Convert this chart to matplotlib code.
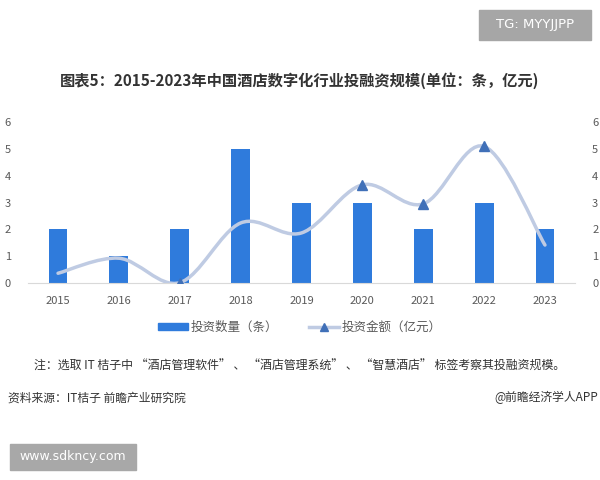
import numpy as np
import matplotlib
matplotlib.use('Agg')
import matplotlib.pyplot as plt
from matplotlib.path import Path
from matplotlib.patches import PathPatch, Rectangle
from matplotlib.lines import Line2D

plt.rcParams['font.family'] = ['Noto Sans CJK SC', 'DejaVu Sans']

# Data
years = ['2015', '2016', '2017', '2018', '2019', '2020', '2021', '2022', '2023']
deal_count = [2, 1, 2, 5, 3, 3, 2, 3, 2]                              # 投资数量（条）
deal_amount = [0.37, 0.93, 0.02, 2.24, 1.87, 3.66, 2.95, 5.09, 1.42]  # 投资金额（亿元）
marked = [2, 5, 6, 7]  # points where the triangle marker is visible

bar_color = '#2f7bdc'
line_color = '#bfcbe3'
marker_color = '#4070b8'
tick_color = '#595959'

fig = plt.figure(figsize=(6, 4.8), dpi=100)
ax = fig.add_axes([0.046, 0.41, 0.913, 0.336])

x = np.arange(len(years))
ax.bar(x, deal_count, width=0.31, color=bar_color, zorder=2)

ax.set_xlim(-0.5, len(years) - 0.5)
ax.set_ylim(0, 6)
ax.set_yticks(range(0, 7))
ax.set_xticks(x)
ax.set_xticklabels(years)
ax.tick_params(axis='both', length=0, labelsize=8, labelcolor=tick_color)
ax.tick_params(axis='x', pad=9)
ax.tick_params(axis='y', pad=12)
for s in ['top', 'right', 'left']:
    ax.spines[s].set_visible(False)
ax.spines['bottom'].set_color('#d9d9d9')

ax2 = ax.twinx()
ax2.set_ylim(0, 6)
ax2.set_yticks(range(0, 7))
ax2.tick_params(axis='y', length=0, labelsize=8, labelcolor=tick_color, pad=12)
for s in ax2.spines.values():
    s.set_visible(False)

# smoothed line (Catmull-Rom as cubic bezier through the data points)
pts = np.column_stack([x, deal_amount]).astype(float)
ext = np.vstack([pts[0], pts, pts[-1]])
verts = [pts[0]]
codes = [Path.MOVETO]
for i in range(len(pts) - 1):
    p0, p1, p2, p3 = ext[i], ext[i + 1], ext[i + 2], ext[i + 3]
    verts += [p1 + (p2 - p0) / 6, p2 - (p3 - p1) / 6, p2]
    codes += [Path.CURVE4] * 3
ax2.add_patch(PathPatch(Path(verts, codes), fill=False, edgecolor=line_color,
                        linewidth=2.5, capstyle='round', zorder=3))
ax2.plot(x[marked], np.array(deal_amount)[marked], linestyle='none', marker='^',
         markersize=6.5, color=marker_color, zorder=4)

# title
fig.text(0.5, 0.833, '图表5：2015-2023年中国酒店数字化行业投融资规模(单位：条，亿元)',
         ha='center', va='center', fontsize=11, fontweight='bold', color='#333333')

# legend
handles = [Rectangle((0, 0), 1, 1, color=bar_color),
           Line2D([], [], color=line_color, linewidth=2.5, marker='^',
                  markerfacecolor=marker_color, markeredgecolor=marker_color, markersize=6)]
fig.legend(handles, ['投资数量（条）', '投资金额（亿元）'], loc='center',
           bbox_to_anchor=(0.5, 0.318), ncol=2, frameon=False, fontsize=9,
           handlelength=2.4, handleheight=0.5, columnspacing=2.5, handletextpad=0.2,
           labelcolor='#595959')

# notes
fig.text(0.5, 0.237, '注：选取 IT 桔子中 “酒店管理软件” 、 “酒店管理系统” 、 “智慧酒店” 标签考察其投融资规模。',
         ha='center', va='center', fontsize=8.6, color='#333333')
fig.text(0.013, 0.171, '资料来源：IT桔子 前瞻产业研究院', ha='left', va='center',
         fontsize=8.5, color='#333333')
fig.text(0.997, 0.171, '@前瞻经济学人APP', ha='right', va='center',
         fontsize=8.5, color='#333333')

# corner tags
fig.patches.append(Rectangle((0.798, 0.917), 0.187, 0.062, transform=fig.transFigure,
                             color='#a6a6a6', zorder=1))
fig.text(0.8915, 0.948, 'TG: MYYJJPP', ha='center', va='center', fontsize=9.5,
         color='white', family='DejaVu Sans')
fig.patches.append(Rectangle((0.017, 0.021), 0.209, 0.054, transform=fig.transFigure,
                             color='#a8a8a8', zorder=1))
fig.text(0.1215, 0.048, 'www.sdkncy.com', ha='center', va='center', fontsize=9,
         color='white', family='DejaVu Sans')

fig.savefig('out.png', dpi=100)
